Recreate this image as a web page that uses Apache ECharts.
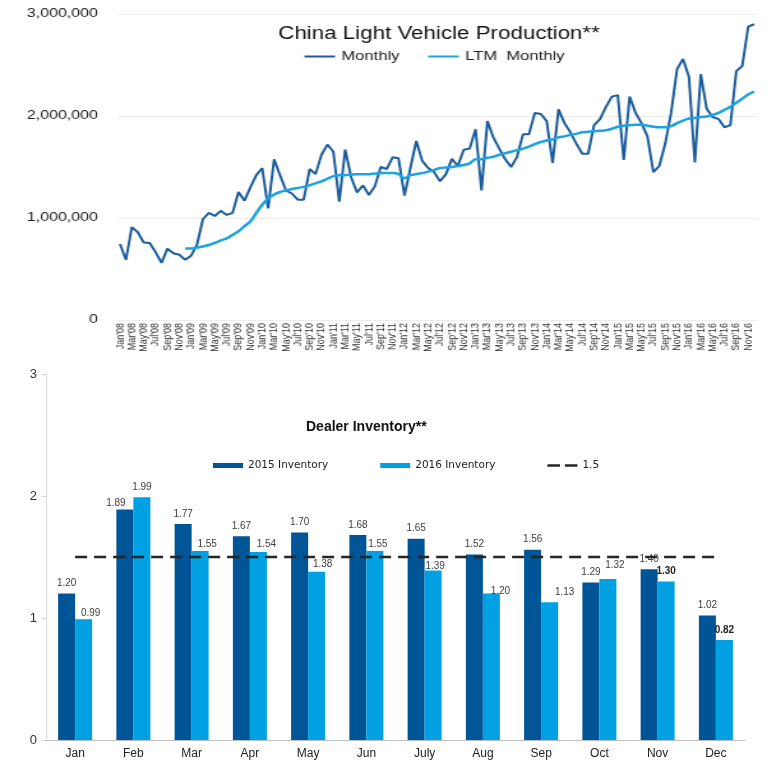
<!DOCTYPE html>
<html>
<head>
<meta charset="utf-8">
<script src="https://cdn.jsdelivr.net/npm/echarts@6/dist/echarts.min.js"></script>
<style>
  html, body { margin: 0; padding: 0; background: #fff; }
  #page { position: relative; width: 767px; height: 760px; overflow: hidden; background: #fff; }
  /* production panel is laid out narrow and widened to the page width */
  #production { position: absolute; left: 0; top: 0; width: 601px; height: 362px;
                transform: scaleX(1.27621); transform-origin: 0 0; }
  #inventory { position: absolute; left: 0; top: 360px; width: 767px; height: 400px; }
</style>
</head>
<body>
<div id="page">
  <div id="inventory"></div>
  <div id="production"></div>
</div>
<script>
// ---- China light vehicle production, units in thousands (Jan'08 .. Dec'16) ----
const monthAbbr = ['Jan', 'Feb', 'Mar', 'Apr', 'May', 'Jun', 'Jul', 'Aug', 'Sep', 'Oct', 'Nov', 'Dec'];
const yearSuffix = ['08', '09', '10', '11', '12', '13', '14', '15', '16'];

const monthlyK = [
  745, 590, 910, 860, 760, 755, 665, 560, 700, 655, 640, 590,
  630, 740, 990, 1050, 1020, 1070, 1030, 1050, 1255, 1170, 1300, 1420,
  1490, 1095, 1575, 1420, 1270, 1240, 1180, 1180, 1480, 1430, 1620, 1720,
  1650, 1160, 1670, 1400, 1250, 1320, 1225, 1310, 1500, 1480, 1595, 1585,
  1220, 1490, 1755, 1560, 1490, 1450, 1360, 1430, 1580, 1510, 1670, 1680,
  1870, 1270, 1950, 1790, 1680, 1575, 1500, 1600, 1820, 1820, 2030, 2020,
  1950, 1540, 2065, 1930, 1840, 1730, 1630, 1630, 1910, 1970, 2090, 2190,
  2205, 1570, 2190, 2030, 1930, 1800, 1450, 1510, 1730, 2030, 2460, 2560,
  2385, 1545, 2410, 2070, 1990, 1970, 1890, 1910, 2440, 2490, 2875, 2900
];

// Last-twelve-months monthly average; first reported for Dec'08
const ltmMonthlyK = [
  null, null, null, null, null, null, null, null, null, null, null, 700,
  700, 710, 720, 735, 755, 780, 800, 835, 870, 920, 965, 1050,
  1130, 1190, 1230, 1255, 1270, 1285, 1295, 1305, 1320, 1340, 1360, 1385,
  1410, 1420, 1420, 1425, 1430, 1430, 1430, 1435, 1440, 1440, 1440, 1430,
  1390, 1420, 1430, 1440, 1455, 1470, 1490, 1495, 1500, 1510, 1520, 1535,
  1575, 1575, 1590, 1600, 1620, 1635, 1650, 1665, 1680, 1700, 1725, 1745,
  1760, 1770, 1790, 1800, 1815, 1825, 1840, 1845, 1850, 1855, 1860, 1875,
  1895, 1905, 1910, 1915, 1915, 1905, 1895, 1890, 1890, 1900, 1930, 1955,
  1975, 1980, 1990, 1995, 2010, 2030, 2060, 2090, 2130, 2170, 2210, 2240
];

// ---- Dealer inventory (months of supply) ----
const invMonths = ['Jan', 'Feb', 'Mar', 'Apr', 'May', 'Jun', 'July', 'Aug', 'Sep', 'Oct', 'Nov', 'Dec'];
const inventory2015 = [1.20, 1.89, 1.77, 1.67, 1.70, 1.68, 1.65, 1.52, 1.56, 1.29, 1.40, 1.02];
const inventory2016 = [0.99, 1.99, 1.55, 1.54, 1.38, 1.55, 1.39, 1.20, 1.13, 1.32, 1.30, 0.82];
const benchmarkLevel = [1.5, 1.5, 1.5, 1.5, 1.5, 1.5, 1.5, 1.5, 1.5, 1.5, 1.5, 1.5];

const productionCategories = [];
yearSuffix.forEach(y => monthAbbr.forEach(m => productionCategories.push(m + "'" + y)));
const toUnits = arr => arr.map(v => (v == null ? null : v * 1000));

const FONT = '"Liberation Sans", Arial, sans-serif';
const DARK = '#005596';
const LIGHT = '#00a0e2';
const MONTHLY_BLUE = '#1b5c9c';
const LTM_BLUE = '#1ba3e2';

// ================= production panel =================
const production = echarts.init(document.getElementById('production'), null, { renderer: 'canvas' });
production.setOption({
  animation: false,
  textStyle: { fontFamily: FONT },
  title: {
    text: 'China Light Vehicle Production**',
    left: 213, top: 20,
    textStyle: { fontFamily: FONT, fontSize: 17.5, fontWeight: 'normal', color: '#111' }
  },
  legend: {
    data: [
      { name: 'Monthly', icon: 'path://M0,0H24V2H0Z' },
      { name: 'LTM  Monthly', icon: 'path://M0,0H24V2H0Z' }
    ],
    left: 233.5, top: 45,
    itemWidth: 24, itemHeight: 12, itemGap: 22.5,
    textStyle: { fontFamily: FONT, fontSize: 13, color: '#222' }
  },
  grid: { left: 91.7, right: 7.8, top: 14, height: 306 },
  xAxis: {
    type: 'category', data: productionCategories, boundaryGap: true,
    axisLine: { show: false }, axisTick: { show: false },
    axisLabel: { interval: 1, rotate: 90, fontSize: 9, margin: 3, color: '#333', fontFamily: FONT }
  },
  yAxis: {
    type: 'value', min: 0, max: 3000000, interval: 1000000,
    axisLine: { show: false }, axisTick: { show: false },
    splitLine: { lineStyle: { color: '#ececec', width: 1 } },
    axisLabel: {
      fontSize: 12.5, color: '#222', margin: 15, fontFamily: FONT,
      formatter: v => v.toLocaleString('en-US')
    }
  },
  series: [
    {
      name: 'Monthly', type: 'line', data: toUnits(monthlyK), symbol: 'none',
      lineStyle: { color: MONTHLY_BLUE, width: 2 }, itemStyle: { color: MONTHLY_BLUE }
    },
    {
      name: 'LTM  Monthly', type: 'line', data: toUnits(ltmMonthlyK), symbol: 'none', smooth: 0.3,
      lineStyle: { color: LTM_BLUE, width: 2.5 }, itemStyle: { color: LTM_BLUE }
    }
  ]
});

// ================= dealer inventory panel =================
// label nudges for the 2016 bars so text clears neighbouring marks
const label2016Nudge = [[7, 4], [0, 0], [7, 3], [8, 2], [6, 3], [3, 3], [2, 6], [9, 8], [15, 0], [7, -4], [0, 0], [0, 0]];
const bold2016 = [false, false, false, false, false, false, false, false, false, false, true, true];

const barLabel = {
  show: true, position: 'top', distance: 5,
  fontSize: 10, color: '#404040', fontFamily: FONT,
  formatter: p => p.value.toFixed(2)
};

const inventory = echarts.init(document.getElementById('inventory'), null, { renderer: 'canvas' });
inventory.setOption({
  animation: false,
  textStyle: { fontFamily: FONT },
  title: {
    text: 'Dealer Inventory**',
    left: 301, top: 55,
    textStyle: { fontFamily: FONT, fontSize: 14, fontWeight: 'bold', color: '#111' }
  },
  legend: {
    data: [
      { name: '2015 Inventory', icon: 'rect' },
      { name: '2016 Inventory', icon: 'rect' },
      { name: '1.5', icon: 'path://M0,0H13V2.5H0ZM18,0H31V2.5H18Z' }
    ],
    left: 208, top: 95,
    itemWidth: 30, itemHeight: 5, itemGap: 52,
    textStyle: { fontFamily: '"DejaVu Sans", Verdana, sans-serif', fontSize: 10.5, color: '#222' }
  },
  grid: { left: 46, right: 22, top: 14, height: 367.5 },
  xAxis: {
    type: 'category', data: invMonths,
    axisLine: { show: true, lineStyle: { color: '#bfbfbf', width: 1 } },
    axisTick: { show: false },
    axisLabel: { fontSize: 12, margin: 8, color: '#222', fontFamily: FONT }
  },
  yAxis: {
    type: 'value', min: 0, max: 3, interval: 1,
    axisLine: { show: true, lineStyle: { color: '#d9d9d9', width: 1 } },
    axisTick: { show: true, length: 5, lineStyle: { color: '#d9d9d9' } },
    splitLine: { show: false },
    axisLabel: { fontSize: 13, color: '#333', margin: 9, fontFamily: FONT }
  },
  series: [
    {
      name: '2015 Inventory', type: 'bar', barWidth: 17, barGap: '0%',
      itemStyle: { color: DARK },
      data: inventory2015.map((v, i) => (i === 1 ? { value: v, label: { offset: [-9, 4] } } : v)),
      label: barLabel
    },
    {
      name: '2016 Inventory', type: 'bar', barWidth: 17, barGap: '0%',
      itemStyle: { color: LIGHT },
      data: inventory2016.map((v, i) => ({
        value: v,
        label: {
          offset: label2016Nudge[i],
          fontWeight: bold2016[i] ? 'bold' : 'normal',
          color: bold2016[i] ? '#222' : '#404040'
        }
      })),
      label: barLabel
    },
    {
      name: '1.5', type: 'line', data: benchmarkLevel, symbol: 'none', z: 5,
      lineStyle: { color: '#262626', width: 2.5, type: [12, 7] },
      itemStyle: { color: '#262626' }
    }
  ]
});
</script>
</body>
</html>
